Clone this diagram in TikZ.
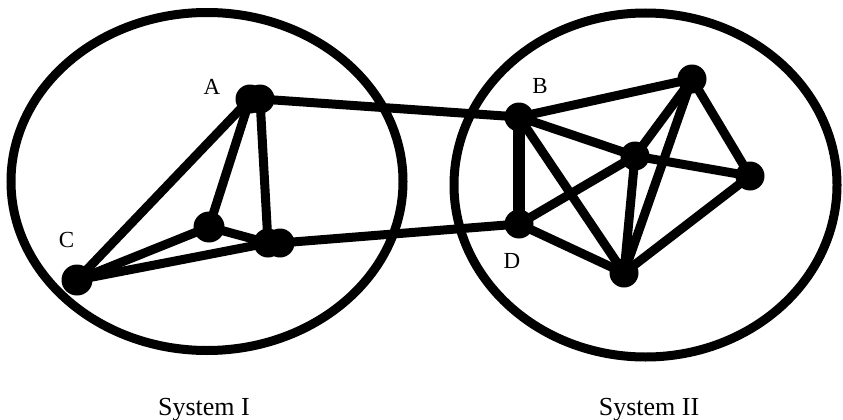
\documentclass[tikz,border=0pt]{standalone}
\usepackage{fontspec}
\setmainfont{Liberation Serif}
\begin{document}
\begin{tikzpicture}[x=1pt,y=-1pt,
  vtx/.style={circle,fill=black,inner sep=0pt,minimum size=29pt},
  bigvtx/.style={circle,fill=black,inner sep=0pt,minimum size=31pt},
  edge/.style={line width=9pt,line cap=round},
  thickedge/.style={line width=12pt,line cap=round},
  sys/.style={line width=9pt},
  lbl/.style={inner sep=0pt,font=\fontsize{23}{27}\selectfont},
  syscaption/.style={inner sep=0pt,anchor=base,font=\fontsize{26}{30}\selectfont}]
\useasboundingbox (0,0) rectangle (843,420);
% systems
\draw[sys] (207,181.5) ellipse [x radius=196pt, y radius=169pt];
\draw[sys] (645.5,185) ellipse [x radius=191.5pt, y radius=172pt];
% vertices, system I
\node[vtx] (A1) at (250,99) {};
\node[vtx] (A2) at (260,99) {};
\node[bigvtx] (M) at (209,227) {};
\node[vtx] (L1) at (268,243) {};
\node[vtx] (L2) at (280,243) {};
\node[bigvtx] (C) at (77,280) {};
% vertices, system II
\node[vtx] (B) at (519,117) {};
\node[vtx] (D) at (519,224) {};
\node[vtx] (Q) at (635,156) {};
\node[vtx] (T) at (692,79) {};
\node[vtx] (R) at (750,176) {};
\node[vtx] (P) at (624,273) {};
% edges, system I
\draw[edge] (A1.center) -- (C.center);
\draw[edge] (A1.center) -- (M.center);
\draw[edge] (A2.center) -- (L1.center);
\draw[edge] (M.center) -- (C.center);
\draw[edge] (M.center) -- (L1.center);
\draw[edge] (C.center) -- (L1.center);
% links between systems
\draw[edge] (A2.center) -- (B.center);
\draw[edge] (L2.center) -- (D.center);
% edges, system II
\draw[thickedge] (B.center) -- (D.center);
\draw[edge] (B.center) -- (T.center);
\draw[edge] (B.center) -- (Q.center);
\draw[edge] (B.center) -- (P.center);
\draw[edge] (D.center) -- (Q.center);
\draw[edge] (D.center) -- (P.center);
\draw[edge] (Q.center) -- (T.center);
\draw[edge] (Q.center) -- (R.center);
\draw[edge] (Q.center) -- (P.center);
\draw[edge] (T.center) -- (P.center);
\draw[edge] (T.center) -- (R.center);
\draw[edge] (R.center) -- (P.center);
% labels
\node[lbl] (la) at (212,86.5) {A};
\node[lbl] (lc) at (66.5,240) {C};
\node[lbl] (lb) at (540,86) {B};
\node[lbl] (ld) at (512,261) {D};
\node[syscaption] (s1) at (204,415) {System I};
\node[syscaption] (s2) at (649,415) {System II};
\end{tikzpicture}
\end{document}
